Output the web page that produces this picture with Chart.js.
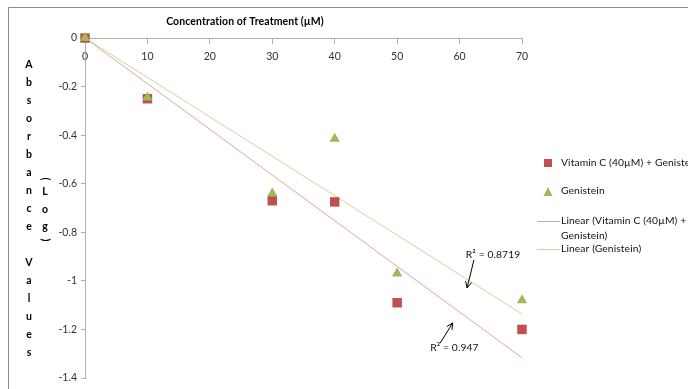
<!DOCTYPE html>
<html>
<head>
<meta charset="utf-8">
<script src="https://cdn.jsdelivr.net/npm/chart.js@4.4.0/dist/chart.umd.min.js"></script>
<style>
  html, body { margin: 0; padding: 0; background: #fff; }
  #wrap { width: 688px; height: 389px; position: relative; }
</style>
</head>
<body>
<div id="wrap"><canvas id="chart" width="688" height="389"></canvas></div>
<script>
// DATA
const concentrations = [0, 10, 30, 40, 50, 70];
const vitCGenistein = [0, -0.25, -0.67, -0.675, -1.09, -1.2];
const genistein = [0, -0.245, -0.64, -0.415, -0.97, -1.08];
const xTicks = [0, 10, 20, 30, 40, 50, 60, 70];
const yTicks = [0, -0.2, -0.4, -0.6, -0.8, -1, -1.2, -1.4];
const r2Labels = ["R² = 0.947", "R² = 0.8719"];

const FONT = "Lato, 'Liberation Sans', sans-serif";
const RED = "#c0504d";
const GREEN = "#9bbb59";
const RED_LINE = "#e3a3a1";
const GREEN_LINE = "#c6d89f";

// linear trend through origin (Excel "set intercept = 0")
function trend(xs, ys) {
  let sxy = 0, sxx = 0;
  xs.forEach((x, i) => { sxy += x * ys[i]; sxx += x * x; });
  const k = sxy / sxx;
  const xMax = Math.max(...xs);
  return [{ x: 0, y: 0 }, { x: xMax, y: k * xMax }];
}

const toPoints = (ys) => concentrations.map((x, i) => ({ x: x, y: ys[i] }));

// titles, legend, R² notes
const extras = {
  id: "extras",
  afterDraw(chart) {
    const { ctx, scales: { x, y } } = chart;
    ctx.save();
    ctx.letterSpacing = "0.1px"; // stops the "ti" ligature

    // frame
    ctx.strokeStyle = "#8a8a8a";
    ctx.lineWidth = 1;
    ctx.beginPath();
    ctx.moveTo(8.5, 389);
    ctx.lineTo(8.5, 7.5);
    ctx.lineTo(688, 7.5);
    ctx.stroke();

    ctx.fillStyle = "#000";
    ctx.textBaseline = "middle";

    // x title
    ctx.font = "bold 10.5px " + FONT;
    ctx.textAlign = "center";
    ctx.fillText("Concentration of Treatment (µM)", 245, 22);

    // y title, stacked letters
    const word = "Absorbance Values";
    for (let i = 0; i < word.length; i++) {
      ctx.fillText(word[i], 29, 65 + i * 18);
    }
    ctx.fillText("L", 45, 192);
    ctx.fillText("o", 45, 210);
    ctx.fillText("g", 45, 227);
    ctx.save();
    ctx.translate(45, 179); ctx.rotate(Math.PI / 2); ctx.fillText("(", 0, 0);
    ctx.restore();
    ctx.save();
    ctx.translate(45, 240); ctx.rotate(Math.PI / 2); ctx.fillText(")", 0, 0);
    ctx.restore();

    // legend
    ctx.font = "10.3px " + FONT;
    ctx.textAlign = "left";
    ctx.fillStyle = RED;
    ctx.fillRect(544, 159, 8, 8);
    ctx.fillStyle = GREEN;
    ctx.beginPath();
    ctx.moveTo(548, 187); ctx.lineTo(552.5, 196); ctx.lineTo(543.5, 196); ctx.closePath();
    ctx.fill();
    ctx.lineWidth = 1;
    ctx.strokeStyle = RED_LINE;
    ctx.beginPath(); ctx.moveTo(537, 221.5); ctx.lineTo(560, 221.5); ctx.stroke();
    ctx.strokeStyle = GREEN_LINE;
    ctx.beginPath(); ctx.moveTo(537, 249.5); ctx.lineTo(560, 249.5); ctx.stroke();
    ctx.fillStyle = "#111";
    ctx.fillText("Vitamin C (40µM) + Genistein", 561, 163);
    ctx.fillText("Genistein", 561, 191);
    ctx.fillText("Linear (Vitamin C (40µM) +", 561, 221);
    ctx.fillText("Genistein)", 561, 236);
    ctx.fillText("Linear (Genistein)", 561, 249);

    // R² notes with arrows
    ctx.fillText(r2Labels[1], x.getPixelForValue(61.0), y.getPixelForValue(-0.893));
    ctx.fillText(r2Labels[0], x.getPixelForValue(55.3), y.getPixelForValue(-1.276));
    const arrow = (x1, y1, x2, y2) => {
      const ax = x.getPixelForValue(x1), ay = y.getPixelForValue(y1);
      const bx = x.getPixelForValue(x2), by = y.getPixelForValue(y2);
      const a = Math.atan2(by - ay, bx - ax);
      ctx.strokeStyle = "#000";
      ctx.lineWidth = 1;
      ctx.beginPath();
      ctx.moveTo(ax, ay); ctx.lineTo(bx, by);
      ctx.moveTo(bx - 7 * Math.cos(a - 0.45), by - 7 * Math.sin(a - 0.45));
      ctx.lineTo(bx, by);
      ctx.lineTo(bx - 7 * Math.cos(a + 0.45), by - 7 * Math.sin(a + 0.45));
      ctx.stroke();
    };
    arrow(62.3, -0.914, 61.2, -1.029);
    arrow(56.9, -1.256, 58.9, -1.173);

    ctx.restore();
  }
};

const ctx = document.getElementById("chart").getContext("2d");
new Chart(ctx, {
  type: "scatter",
  data: {
    datasets: [
      {
        label: "Linear (Vitamin C (40µM) + Genistein)",
        type: "line",
        data: trend(concentrations, vitCGenistein),
        borderColor: RED_LINE,
        borderWidth: 1,
        pointRadius: 0,
        clip: false,
        order: 2,
      },
      {
        label: "Linear (Genistein)",
        type: "line",
        data: trend(concentrations, genistein),
        borderColor: GREEN_LINE,
        borderWidth: 1,
        pointRadius: 0,
        clip: false,
        order: 3,
      },
      {
        label: "Vitamin C (40µM) + Genistein",
        data: toPoints(vitCGenistein),
        pointStyle: "rect",
        pointRadius: 6.7,
        backgroundColor: RED,
        borderWidth: 0,
        clip: false,
        order: 1,
      },
      {
        label: "Genistein",
        data: toPoints(genistein),
        pointStyle: "triangle",
        pointRadius: 6,
        backgroundColor: GREEN,
        borderWidth: 0,
        clip: false,
        order: 0,
      },
    ],
  },
  options: {
    responsive: false,
    animation: false,
    layout: { padding: { left: 0, right: 166, top: 38, bottom: 11 } },
    plugins: { legend: { display: false }, tooltip: { enabled: false } },
    scales: {
      x: {
        type: "linear",
        position: { y: 0 },
        min: 0,
        max: 70,
        afterBuildTicks: (s) => { s.ticks = xTicks.map((v) => ({ value: v })); },
        grid: { drawOnChartArea: false, drawTicks: true, tickLength: 5, color: "#b0b0b0" },
        border: { color: "#b0b0b0" },
        ticks: { color: "#333", font: { family: FONT, size: 10.5 }, padding: 7, minRotation: 0, maxRotation: 0 },
      },
      y: {
        min: -1.4,
        max: 0,
        afterBuildTicks: (s) => { s.ticks = yTicks.map((v) => ({ value: v })); },
        afterFit: (s) => { s.width = 85; },
        grid: { drawOnChartArea: false, drawTicks: true, tickLength: 4, color: "#b0b0b0" },
        border: { color: "#b0b0b0" },
        ticks: {
          color: "#333",
          font: { family: FONT, size: 10.5 },
          padding: 4,
          callback: (v) => String(Math.round(v * 10) / 10),
        },
      },
    },
  },
  plugins: [extras],
});
</script>
</body>
</html>
